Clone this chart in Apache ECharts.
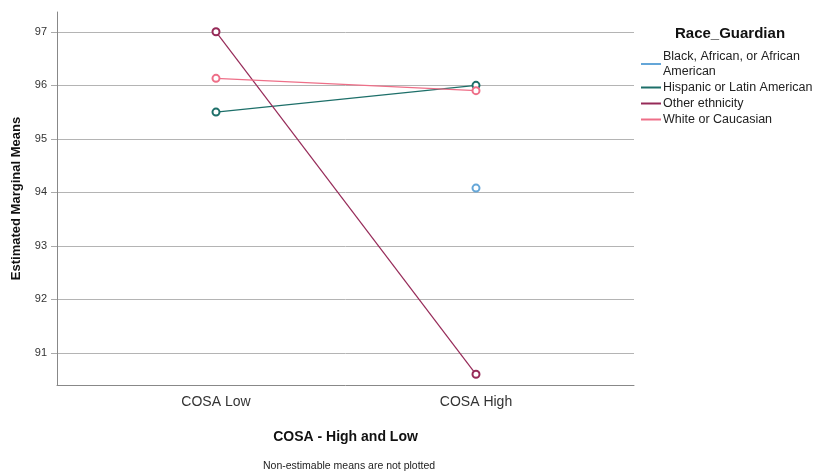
<!DOCTYPE html>
<html>
<head>
<meta charset="utf-8">
<script src="https://cdn.jsdelivr.net/npm/echarts@6/dist/echarts.min.js"></script>
<style>html,body{margin:0;padding:0;background:#fff}#c{width:822px;height:472px}</style>
</head>
<body>
<div id="c"></div>
<script>
const categories = ['COSA Low', 'COSA High'];
const seriesNames = ['Black, African, or African American', 'Hispanic or Latin American', 'Other ethnicity', 'White or Caucasian'];
const blackValues = [null, 94.08];
const hispanicValues = [95.50, 96.00];
const otherValues = [97.00, 90.60];
const whiteValues = [96.13, 95.90];
const yTicks = [91, 92, 93, 94, 95, 96, 97];
const colors = ['#64a6d8', '#1d6f69', '#962a58', '#ee6f88'];

const allValues = [blackValues, hispanicValues, otherValues, whiteValues];
function toPoints(vals) {
  const pts = [];
  vals.forEach((v, i) => { if (v !== null) pts.push([i, v]); });
  return pts;
}

const FF = 'Liberation Sans, Arial, sans-serif';
const chart = echarts.init(document.getElementById('c'), null, {renderer: 'canvas'});
chart.setOption({
  animation: false,
  backgroundColor: '#fff',
  textStyle: {fontFamily: FF},
  title: [
    {text: 'Race_Guardian', left: 670, top: 21, textStyle: {fontSize: 15, fontWeight: 'bold', color: '#111', fontFamily: FF}},
    {text: 'Non-estimable means are not plotted', left: 258, top: 456, textStyle: {fontSize: 10.5, fontWeight: 'normal', color: '#222', fontFamily: FF}}
  ],
  legend: {
    orient: 'vertical',
    left: 636,
    top: 44,
    itemWidth: 20,
    itemHeight: 2,
    itemGap: 1,
    data: seriesNames.map((n, i) => ({name: n, icon: 'rect', itemStyle: {color: colors[i]}})),
    formatter: function (n) { return n === seriesNames[0] ? 'Black, African, or African\nAmerican' : n; },
    textStyle: {fontSize: 12.5, color: '#222', lineHeight: 15, padding: [0, 0, 0, -3]}
  },
  grid: {left: 57, right: 188, top: 12, bottom: 87, containLabel: false},
  xAxis: {
    type: 'value',
    min: -0.6115,
    max: 1.6077,
    name: 'COSA - High and Low',
    nameLocation: 'middle',
    nameGap: 45,
    nameTextStyle: {fontSize: 14, fontWeight: 'bold', color: '#111'},
    axisLine: {show: true, onZero: false, lineStyle: {color: '#888', width: 1}},
    axisTick: {show: false},
    splitLine: {show: false},
    axisLabel: {
      customValues: [0, 1],
      formatter: function (v) { return categories[Math.round(v)] || ''; },
      fontSize: 14, color: '#333', margin: 10
    }
  },
  yAxis: {
    type: 'value',
    min: 90.40,
    max: 97.37,
    name: 'Estimated Marginal Means',
    nameLocation: 'middle',
    nameGap: 34,
    nameTextStyle: {fontSize: 13, fontWeight: 'bold', color: '#111'},
    axisLine: {show: true, onZero: false, lineStyle: {color: '#888', width: 1}},
    axisTick: {show: true, customValues: yTicks, length: 6, inside: false, lineStyle: {color: '#aaa'}},
    axisLabel: {customValues: yTicks, fontSize: 11, color: '#333', margin: 10},
    splitLine: {show: true, lineStyle: {color: '#b4b4b4', width: 1}}
  },
  series: seriesNames.map((n, i) => ({
    name: n,
    type: 'line',
    data: toPoints(allValues[i]),
    symbol: 'emptyCircle',
    symbolSize: 7,
    color: colors[i],
    lineStyle: {color: colors[i], width: 1.2},
    itemStyle: {color: colors[i], borderWidth: 1.3}
  }))
});
</script>
</body>
</html>
